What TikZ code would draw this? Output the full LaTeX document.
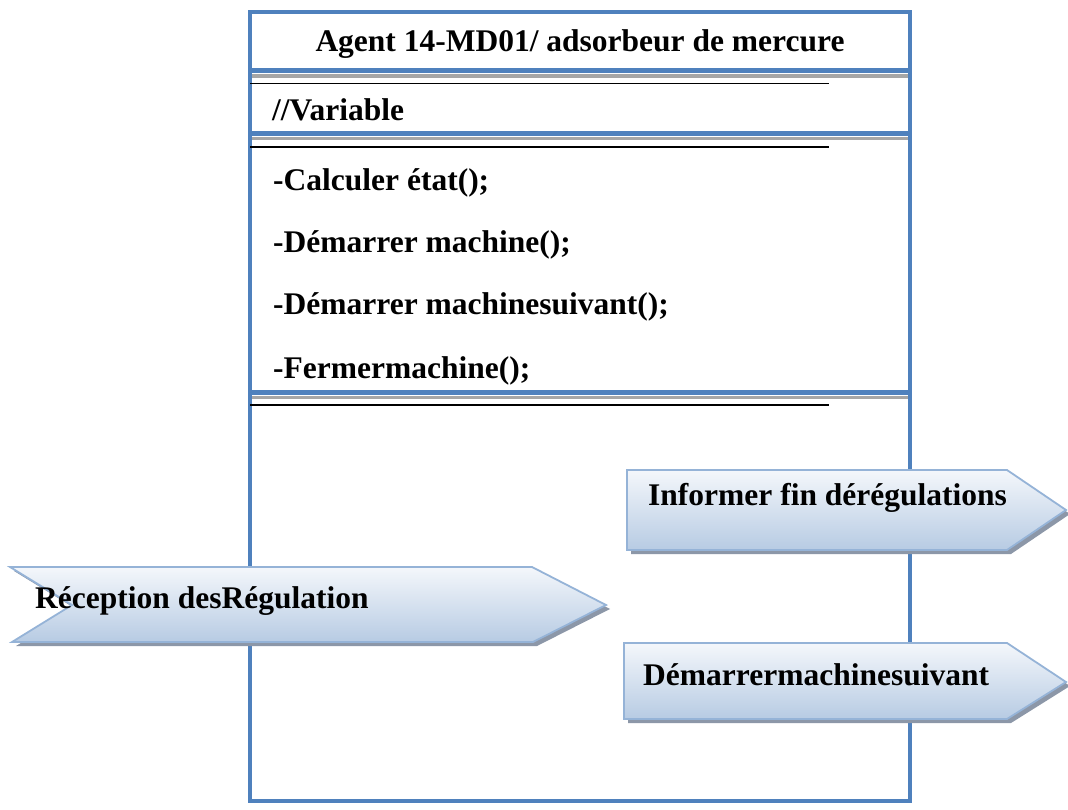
\documentclass[tikz,border=0pt]{standalone}
\usepackage{fontspec}
\setmainfont{Liberation Serif}
\definecolor{boxblue}{HTML}{4F81BD}
\definecolor{sepgray}{HTML}{A6A6A6}
\definecolor{sigedge}{HTML}{95B3D7}
\definecolor{sigtop}{HTML}{F4F7FB}
\definecolor{sigbot}{HTML}{B7CBE3}
\definecolor{shadowgray}{HTML}{8C97A8}
\begin{document}
\begin{tikzpicture}[x=1pt,y=-1pt,
  frame/.style={draw=boxblue, line width=4.5pt},
  sepblue/.style={draw=boxblue, line width=5pt},
  sepshade/.style={draw=sepgray, line width=3.5pt},
  rule/.style={draw=black, line width=1.6pt},
  lbl/.style={font=\fontsize{31.5}{36}\selectfont\bfseries, inner sep=0pt, anchor=base west},
  sig/.style={draw=sigedge, line width=1.8pt, top color=sigtop, bottom color=sigbot, line join=miter},
  sigshadow/.style={fill=shadowgray}
]
\useasboundingbox (0,0) rectangle (1068,810);

% class frame
\draw[frame, fill=white] (250,12) rectangle (910,801);

% compartment separators: blue line, grey shade, black rule
\foreach \yb/\yr in {71/83.5, 133.5/147, 392.5/405} {
  \draw[sepshade] (252,\yb+5) -- (908,\yb+5);
  \draw[sepblue] (250,\yb) -- (910,\yb);
  \draw[rule] (250,\yr) -- (829,\yr);
}

% texts of the class
\node[lbl, anchor=base] (title) at (580,52) {Agent 14-MD01/ adsorbeur de mercure};
\node[lbl] (var) at (272,121) {//Variable};
\node[lbl] (m1) at (273,191) {-Calculer état();};
\node[lbl] (m2) at (273,253) {-Démarrer machine();};
\node[lbl] (m3) at (273,315) {-Démarrer machinesuivant();};
\node[lbl] (m4) at (273,378) {-Fermermachine();};

% outgoing message: Informer fin dérégulations
\fill[sigshadow] (631,474) -- (1011,474) -- (1070,514) -- (1011,554) -- (631,554) -- cycle;
\draw[sig] (627,470) -- (1007,470) -- (1066,510) -- (1007,550) -- (627,550) -- cycle;
\node[lbl] (inf) at (648,505) {Informer fin dérégulations};

% incoming message: Réception desRégulation
\fill[sigshadow] (14,571) -- (536,571) -- (610,609) -- (537,646) -- (16,646) -- (76,609) -- cycle;
\draw[sig] (10,567) -- (532,567) -- (606,605) -- (533,642) -- (12,642) -- (72,605) -- cycle;
\node[lbl] (rec) at (35,608) {Réception desRégulation};

% outgoing message: Démarrermachinesuivant
\fill[sigshadow] (628,647) -- (1011,647) -- (1070,686) -- (1011,723) -- (628,723) -- cycle;
\draw[sig] (624,643) -- (1007,643) -- (1066,682) -- (1007,719) -- (624,719) -- cycle;
\node[lbl] (dem) at (643,685) {Démarrermachinesuivant};
\end{tikzpicture}
\end{document}
